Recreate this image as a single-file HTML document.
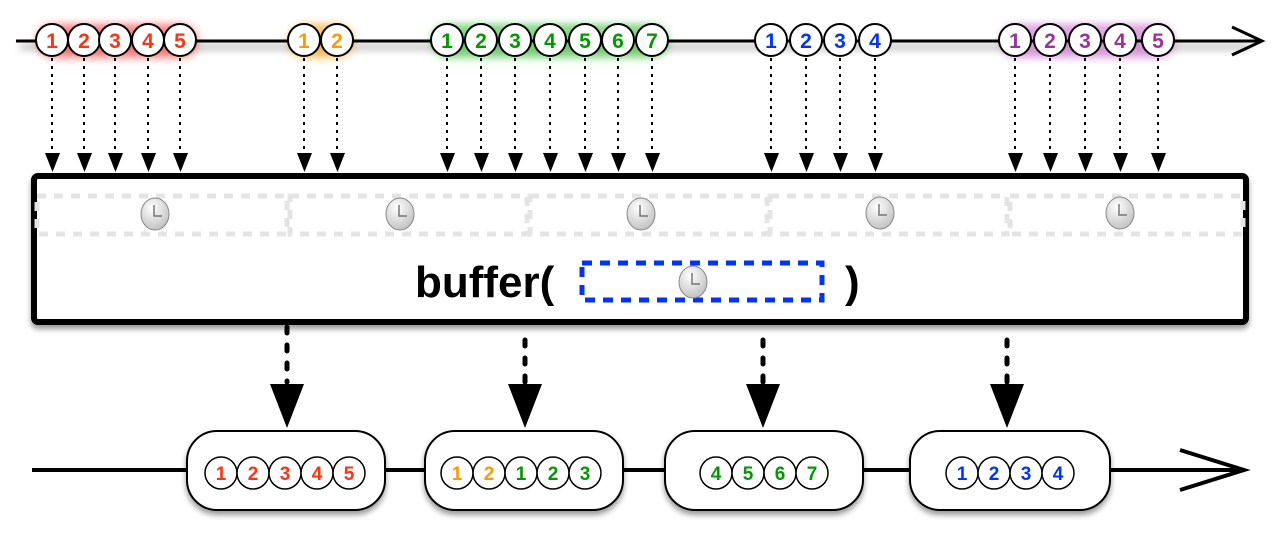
<!DOCTYPE html>
<html><head><meta charset="utf-8"><style>html,body{margin:0;padding:0;background:#fff;}svg{display:block;}</style></head><body>
<svg width="1280" height="540" viewBox="0 0 1280 540" xmlns="http://www.w3.org/2000/svg" font-family="Liberation Sans, sans-serif">
<defs>
<filter id="sh" x="-10%" y="-50%" width="120%" height="200%"><feGaussianBlur in="SourceAlpha" stdDeviation="3"/><feOffset dy="4"/><feComponentTransfer><feFuncA type="linear" slope="0.4"/></feComponentTransfer><feMerge><feMergeNode/><feMergeNode in="SourceGraphic"/></feMerge></filter>
<filter id="bl" x="-20%" y="-100%" width="140%" height="300%"><feGaussianBlur stdDeviation="4"/></filter>
<radialGradient id="cg" cx="0.4" cy="0.3" r="0.8"><stop offset="0" stop-color="#fff"/><stop offset="1" stop-color="#bbb"/></radialGradient>
<g id="clk"><ellipse cx="0" cy="0" rx="14" ry="16" fill="url(#cg)" stroke="#888" stroke-width="1"/><path d="M-1,-9 V2 H7" stroke="#777" stroke-width="1.5" fill="none"/></g>
</defs>
<!-- top line -->
<rect x="20" y="44" width="1230" height="6" fill="#000" opacity="0.25" filter="url(#bl)"/>
<g filter="url(#bl)" opacity="0.6">
<rect x="36" y="24" width="162" height="34" rx="17" fill="#f33"/>
<rect x="288" y="24" width="66" height="34" rx="17" fill="#f90"/>
<rect x="431" y="24" width="238" height="34" rx="17" fill="#3b3"/>
<rect x="1000" y="24" width="175" height="34" rx="17" fill="#c6c"/>
</g>
<line x1="16" y1="41" x2="1258" y2="41" stroke="#000" stroke-width="3"/>
<path d="M1232,27 L1262,41 L1232,55" stroke="#000" stroke-width="3" fill="none"/>
<g stroke="#000" stroke-width="2" stroke-dasharray="3,5">
<path d="M52,58V155M84,58V155M115,58V155M148,58V155M180,58V155M304,58V155M337,58V155M447,58V155M481,58V155M515,58V155M550,58V155M585,58V155M618,58V155M652,58V155M771,58V155M806,58V155M840,58V155M875,58V155M1015,58V155M1050,58V155M1085,58V155M1120,58V155M1158,58V155"/>
</g>
<g fill="#000">
<path d="M45,153h15l-7.5,19z M77,153h15l-7.5,19z M108,153h15l-7.5,19z M141,153h15l-7.5,19z M173,153h15l-7.5,19z M297,153h15l-7.5,19z M330,153h15l-7.5,19z M440,153h15l-7.5,19z M474,153h15l-7.5,19z M508,153h15l-7.5,19z M543,153h15l-7.5,19z M578,153h15l-7.5,19z M611,153h15l-7.5,19z M645,153h15l-7.5,19z M764,153h15l-7.5,19z M799,153h15l-7.5,19z M833,153h15l-7.5,19z M868,153h15l-7.5,19z M1008,153h15l-7.5,19z M1043,153h15l-7.5,19z M1078,153h15l-7.5,19z M1113,153h15l-7.5,19z M1151,153h15l-7.5,19z"/>
</g>
<g font-size="21" font-weight="bold" text-anchor="middle" stroke="#000" stroke-width="2">
<g fill="#fff"><circle cx="52" cy="40" r="16"/><circle cx="84" cy="40" r="16"/><circle cx="115" cy="40" r="16"/><circle cx="148" cy="40" r="16"/><circle cx="180" cy="40" r="16"/>
<circle cx="304" cy="40" r="16"/><circle cx="337" cy="40" r="16"/>
<circle cx="447" cy="40" r="16"/><circle cx="481" cy="40" r="16"/><circle cx="515" cy="40" r="16"/><circle cx="550" cy="40" r="16"/><circle cx="585" cy="40" r="16"/><circle cx="618" cy="40" r="16"/><circle cx="652" cy="40" r="16"/>
<circle cx="771" cy="40" r="16"/><circle cx="806" cy="40" r="16"/><circle cx="840" cy="40" r="16"/><circle cx="875" cy="40" r="16"/>
<circle cx="1015" cy="40" r="16"/><circle cx="1050" cy="40" r="16"/><circle cx="1085" cy="40" r="16"/><circle cx="1120" cy="40" r="16"/><circle cx="1158" cy="40" r="16"/></g>
<g stroke="none">
<g fill="#f31"><text x="52" y="48">1</text><text x="84" y="48">2</text><text x="115" y="48">3</text><text x="148" y="48">4</text><text x="180" y="48">5</text></g>
<g fill="#f90"><text x="304" y="48">1</text><text x="337" y="48">2</text></g>
<g fill="#090"><text x="447" y="48">1</text><text x="481" y="48">2</text><text x="515" y="48">3</text><text x="550" y="48">4</text><text x="585" y="48">5</text><text x="618" y="48">6</text><text x="652" y="48">7</text></g>
<g fill="#03f"><text x="771" y="48">1</text><text x="806" y="48">2</text><text x="840" y="48">3</text><text x="875" y="48">4</text></g>
<g fill="#939"><text x="1015" y="48">1</text><text x="1050" y="48">2</text><text x="1085" y="48">3</text><text x="1120" y="48">4</text><text x="1158" y="48">5</text></g>
</g></g>
<!-- operator box -->
<rect x="34" y="176" width="1212" height="146" rx="4" fill="#fff" stroke="#000" stroke-width="6" filter="url(#sh)"/>
<g fill="none" stroke="#e4e4e4" stroke-width="5" stroke-dasharray="9,8">
<rect x="37" y="196" width="250" height="38"/><rect x="290" y="196" width="237" height="38"/><rect x="530" y="196" width="237" height="38"/><rect x="770" y="196" width="237" height="38"/><rect x="1010" y="196" width="233" height="38"/>
</g>
<use href="#clk" x="155" y="214"/><use href="#clk" x="400" y="214"/><use href="#clk" x="641" y="214"/><use href="#clk" x="880" y="213"/><use href="#clk" x="1120" y="213"/>
<text x="415" y="297" font-size="44" font-weight="bold">buffer(</text>
<text x="845" y="297" font-size="44" font-weight="bold">)</text>
<rect x="582" y="263" width="240" height="37" fill="none" stroke="#03f" stroke-width="5" stroke-dasharray="10,8"/>
<use href="#clk" x="693" y="282"/>
<!-- bottom -->
<g stroke="#000" stroke-width="5" stroke-linecap="round" stroke-dasharray="6,12">
<path d="M287,327V382M525,340V382M763,340V382M1007,340V382"/>
</g>
<g fill="#000"><path d="M270,384h34l-17,44z M508,384h34l-17,44z M746,384h34l-17,44z M990,384h34l-17,44z"/></g>
<line x1="32" y1="470" x2="1240" y2="470" stroke="#000" stroke-width="4"/>
<path d="M1180,450 L1244,470 L1180,490" stroke="#000" stroke-width="4" fill="none"/>
<g fill="#fff" stroke="#000" stroke-width="2" filter="url(#sh)">
<rect x="187" y="431" width="198" height="79" rx="30"/><rect x="425" y="431" width="198" height="79" rx="30"/><rect x="665" y="431" width="198" height="79" rx="30"/><rect x="910" y="431" width="200" height="79" rx="30"/>
</g>
<g font-size="19" font-weight="bold" text-anchor="middle">
<g fill="#fff" stroke="#000" stroke-width="1.5">
<circle cx="221" cy="473" r="16"/><circle cx="253" cy="473" r="16"/><circle cx="285" cy="473" r="16"/><circle cx="317" cy="473" r="16"/><circle cx="349" cy="473" r="16"/>
<circle cx="457" cy="473" r="16"/><circle cx="489" cy="473" r="16"/><circle cx="521" cy="473" r="16"/><circle cx="553" cy="473" r="16"/><circle cx="585" cy="473" r="16"/>
<circle cx="716" cy="473" r="16"/><circle cx="748" cy="473" r="16"/><circle cx="780" cy="473" r="16"/><circle cx="812" cy="473" r="16"/>
<circle cx="962" cy="473" r="16"/><circle cx="994" cy="473" r="16"/><circle cx="1026" cy="473" r="16"/><circle cx="1058" cy="473" r="16"/>
</g>
<g fill="#f31"><text x="221" y="480">1</text><text x="253" y="480">2</text><text x="285" y="480">3</text><text x="317" y="480">4</text><text x="349" y="480">5</text></g>
<g fill="#f90"><text x="457" y="480">1</text><text x="489" y="480">2</text></g>
<g fill="#090"><text x="521" y="480">1</text><text x="553" y="480">2</text><text x="585" y="480">3</text><text x="716" y="480">4</text><text x="748" y="480">5</text><text x="780" y="480">6</text><text x="812" y="480">7</text></g>
<g fill="#03f"><text x="962" y="480">1</text><text x="994" y="480">2</text><text x="1026" y="480">3</text><text x="1058" y="480">4</text></g>
</g>
</svg>
</body></html>
